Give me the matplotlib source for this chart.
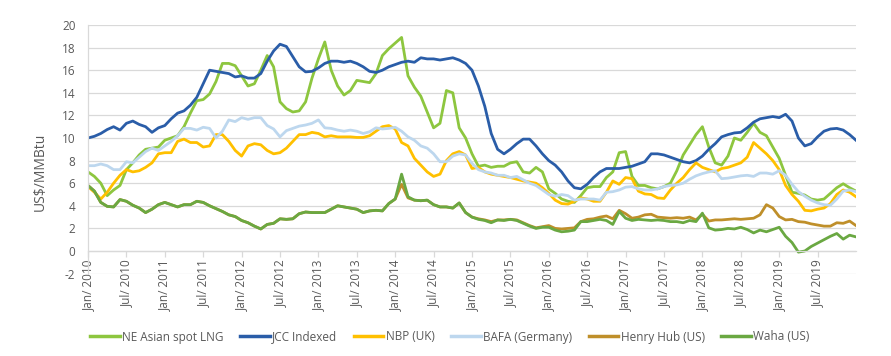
import matplotlib
matplotlib.use("Agg")
import matplotlib.pyplot as plt

plt.rcParams['font.family'] = ['Open Sans', 'DejaVu Sans']
plt.rcParams['axes.unicode_minus'] = False

months = list(range(121))

tick_positions = list(range(0, 120, 6))
tick_labels = ['Jan/ 2010', 'Jul/ 2010', 'Jan/ 2011', 'Jul/ 2011', 'Jan/ 2012', 'Jul/ 2012',
               'Jan/ 2013', 'Jul/ 2013', 'Jan/ 2014', 'Jul/ 2014', 'Jan/ 2015', 'Jul/ 2015',
               'Jan/ 2016', 'Jul/ 2016', 'Jan/ 2017', 'Jul/ 2017', 'Jan/ 2018', 'Jul/ 2018',
               'Jan/ 2019', 'Jul/ 2019']

ne_asian_lng = [7.0, 6.6, 6.0, 4.9, 5.4, 5.8, 7.2, 7.8, 8.5, 9.0, 9.1, 9.2,
                9.8, 10.0, 10.2, 11.0, 12.2, 13.3, 13.4, 13.9, 15.0, 16.6, 16.6, 16.4,
                15.5, 14.6, 14.8, 16.0, 17.3, 16.3, 13.2, 12.6, 12.3, 12.4, 13.2, 15.3,
                17.0, 18.5, 16.0, 14.6, 13.8, 14.2, 15.1, 15.0, 14.9, 15.7, 17.3, 17.9,
                18.4, 18.9, 15.5, 14.5, 13.7, 12.3, 10.9, 11.3, 14.2, 14.0, 10.9, 10.0,
                8.6, 7.5, 7.6, 7.4, 7.5, 7.5, 7.8, 7.9, 7.0, 6.9, 7.4, 7.0,
                5.5, 5.1, 4.6, 4.4, 4.3, 4.9, 5.6, 5.7, 5.7, 6.5, 7.0, 8.7,
                8.8, 6.6, 5.8, 5.8, 5.6, 5.5, 5.7, 6.0, 7.1, 8.5, 9.4, 10.3,
                11.0, 9.2, 7.8, 7.6, 8.4, 10.0, 9.8, 10.5, 11.3, 10.5, 10.2, 9.2,
                8.2, 6.7, 5.2, 5.1, 4.95, 4.6, 4.5, 4.6, 5.1, 5.6, 5.95, 5.6, 5.3]

jcc_indexed = [10.0, 10.15, 10.4, 10.75, 11.0, 10.7, 11.3, 11.5, 11.2, 11.0, 10.5, 10.9,
               11.1, 11.7, 12.2, 12.4, 12.9, 13.6, 14.8, 16.0, 15.9, 15.8, 15.7, 15.4,
               15.5, 15.3, 15.3, 15.7, 16.8, 17.7, 18.3, 18.1, 17.2, 16.3, 15.85, 15.9,
               16.2, 16.6, 16.8, 16.8, 16.7, 16.8, 16.6, 16.3, 15.9, 15.8, 16.0, 16.3,
               16.5, 16.7, 16.8, 16.7, 17.1, 17.0, 17.0, 16.9, 17.0, 17.1, 16.9, 16.6,
               16.0, 14.6, 12.8, 10.4, 9.0, 8.6, 9.0, 9.5, 9.9, 9.9, 9.3, 8.6,
               8.0, 7.6, 7.0, 6.2, 5.6, 5.5, 5.9, 6.5, 7.0, 7.3, 7.3, 7.3,
               7.4, 7.5, 7.7, 7.9, 8.6, 8.6, 8.5, 8.3, 8.1, 7.9, 7.8, 8.0,
               8.4, 9.0, 9.5, 10.1, 10.3, 10.45, 10.5, 10.9, 11.4, 11.7, 11.8, 11.9,
               11.8, 12.1, 11.5, 10.0, 9.3, 9.5, 10.1, 10.6, 10.8, 10.85, 10.7, 10.3, 9.8]

nbp_uk = [5.7, 5.2, 4.6, 5.2, 6.0, 6.7, 7.2, 7.0, 7.1, 7.4, 7.8, 8.6,
          8.7, 8.7, 9.7, 9.9, 9.6, 9.6, 9.2, 9.3, 10.3, 10.3, 9.7, 8.9,
          8.4, 9.3, 9.5, 9.4, 8.9, 8.6, 8.7, 9.1, 9.7, 10.3, 10.3, 10.5,
          10.4, 10.1, 10.2, 10.1, 10.1, 10.1, 10.05, 10.05, 10.2, 10.6, 11.0, 11.1,
          10.8, 9.6, 9.3, 8.2, 7.6, 7.0, 6.6, 6.8, 8.0, 8.6, 8.8, 8.5,
          7.3, 7.4, 7.0, 6.8, 6.7, 6.6, 6.5, 6.35, 6.2, 6.1, 6.0, 5.6,
          5.1, 4.5, 4.2, 4.15, 4.4, 4.7, 4.6, 4.4, 4.4, 5.2, 6.2, 5.9,
          6.5, 6.4, 5.3, 5.05, 5.0, 4.7, 4.65, 5.4, 6.0, 6.5, 7.2, 7.8,
          7.4, 7.2, 7.0, 7.3, 7.4, 7.6, 7.8, 8.3, 9.6, 9.1, 8.6, 8.0,
          7.2, 5.8, 5.0, 4.4, 3.6, 3.55, 3.7, 3.8, 4.2, 5.0, 5.4, 5.2, 4.8]

bafa_germany = [7.55, 7.55, 7.7, 7.55, 7.2, 7.2, 7.9, 7.8, 8.3, 8.8, 9.1, 8.9,
                9.3, 9.7, 10.2, 10.85, 10.85, 10.7, 10.95, 10.85, 10.0, 10.6, 11.6, 11.45,
                11.8, 11.65, 11.8, 11.8, 11.1, 10.8, 10.1, 10.65, 10.85, 11.05, 11.15, 11.3,
                11.6, 10.9, 10.85, 10.7, 10.6, 10.7, 10.6, 10.4, 10.55, 10.9, 10.8, 10.85,
                10.95, 10.6, 10.1, 9.8, 9.3, 9.1, 8.6, 7.9, 7.9, 8.4, 8.6, 8.5,
                7.75, 7.2, 7.0, 6.9, 6.7, 6.7, 6.5, 6.6, 6.3, 6.0, 5.8, 5.4,
                5.0, 4.85, 5.0, 4.9, 4.5, 4.6, 4.6, 4.6, 4.5, 5.2, 5.25, 5.4,
                5.65, 5.7, 5.5, 5.4, 5.4, 5.5, 5.7, 5.8, 5.85, 6.0, 6.35, 6.65,
                6.85, 7.0, 7.1, 6.4, 6.45, 6.55, 6.65, 6.7, 6.6, 6.9, 6.9, 6.8,
                7.1, 6.7, 5.9, 5.25, 4.85, 4.5, 4.25, 4.1, 4.05, 4.6, 5.3, 5.4, 5.25]

henry_hub = [5.8, 5.3, 4.3, 3.95, 3.9, 4.55, 4.4, 4.05, 3.8, 3.4, 3.7, 4.1,
             4.3, 4.1, 3.9, 4.1, 4.1, 4.4, 4.3, 4.0, 3.75, 3.5, 3.2, 3.05,
             2.7, 2.5, 2.2, 1.95, 2.35, 2.45, 2.85, 2.8, 2.85, 3.3, 3.45, 3.4,
             3.4, 3.4, 3.7, 4.0, 3.9, 3.8, 3.7, 3.4, 3.55, 3.6, 3.55, 4.2,
             4.6, 5.9, 4.7, 4.5, 4.45, 4.5, 4.1, 3.9, 3.9, 3.8, 4.25, 3.4,
             3.0, 2.85, 2.75, 2.6, 2.75, 2.75, 2.8, 2.75, 2.5, 2.25, 2.05, 2.15,
             2.25, 2.0, 1.95, 2.0, 2.05, 2.6, 2.8, 2.85, 3.0, 3.1, 2.85, 3.6,
             3.3, 2.9, 3.0, 3.2, 3.25, 3.0, 2.95, 2.9, 2.95, 2.9, 3.0, 2.75,
             3.25, 2.65, 2.75, 2.75, 2.8, 2.85, 2.8, 2.85, 2.9, 3.2, 4.1, 3.8,
             3.05, 2.75, 2.8, 2.6, 2.55, 2.4, 2.3, 2.2, 2.2, 2.5, 2.45, 2.65, 2.25]

waha = [5.8, 5.3, 4.3, 3.95, 3.9, 4.55, 4.4, 4.05, 3.8, 3.4, 3.7, 4.1,
        4.3, 4.1, 3.9, 4.1, 4.1, 4.4, 4.3, 4.0, 3.75, 3.5, 3.2, 3.05,
        2.7, 2.5, 2.2, 1.95, 2.35, 2.45, 2.85, 2.8, 2.85, 3.3, 3.45, 3.4,
        3.4, 3.4, 3.7, 4.0, 3.9, 3.8, 3.7, 3.4, 3.55, 3.6, 3.55, 4.2,
        4.6, 6.8, 4.8, 4.5, 4.45, 4.5, 4.1, 3.9, 3.9, 3.8, 4.25, 3.4,
        3.0, 2.8, 2.7, 2.5, 2.75, 2.7, 2.8, 2.7, 2.45, 2.2, 2.0, 2.1,
        2.1, 1.85, 1.7, 1.75, 1.85, 2.6, 2.6, 2.7, 2.8, 2.7, 2.35, 3.5,
        2.9, 2.7, 2.8, 2.75, 2.7, 2.75, 2.7, 2.6, 2.6, 2.5, 2.7, 2.6,
        3.35, 2.05, 1.85, 1.9, 2.0, 1.95, 2.1, 1.9, 1.6, 1.85, 1.7, 1.9,
        2.1, 1.3, 0.75, -0.1, 0.0, 0.4, 0.7, 1.0, 1.3, 1.55, 1.05, 1.4, 1.25]

series_names = ['NE Asian spot LNG', 'JCC Indexed', 'NBP (UK)', 'BAFA (Germany)',
                'Henry Hub (US)', 'Waha (US)']
series_values = [ne_asian_lng, jcc_indexed, nbp_uk, bafa_germany, henry_hub, waha]
series_colors = ['#8DC63F', '#2A5DA8', '#FFC000', '#BDD7EE', '#BF8F2A', '#6AA842']

text_color = '#595959'
grid_color = '#D9D9D9'

fig = plt.figure(figsize=(8.91, 3.56), dpi=100)
ax = fig.add_axes([88/891, 1 - 273.6/356, (856 - 88)/891, (273.6 - 25)/356])

for name, vals, col in zip(series_names, series_values, series_colors):
    ax.plot(months, vals, color=col, linewidth=2.0, label=name, solid_joinstyle='round')

ax.set_xlim(0, 120)
ax.set_ylim(-2, 20)
ax.set_yticks(range(-2, 21, 2))
ax.yaxis.grid(True, color=grid_color, linewidth=0.9)
ax.set_axisbelow(True)

for s in ['top', 'right']:
    ax.spines[s].set_visible(False)
ax.spines['left'].set_color(grid_color)
ax.spines['left'].set_linewidth(0.9)
ax.spines['bottom'].set_position(('data', 0))
ax.spines['bottom'].set_color(grid_color)
ax.spines['bottom'].set_linewidth(0.9)

ax.set_xticks(tick_positions)
ax.set_xticklabels(tick_labels, rotation=90, ha='center', va='top')
ax.tick_params(axis='x', direction='out', length=4, color=grid_color, width=0.9,
               labelsize=8.5, labelcolor=text_color, pad=2)
ax.tick_params(axis='y', length=0, labelsize=8.5, labelcolor=text_color, pad=9)

fig.text(40/891, 1 - 172/356, 'US$/MMBtu', rotation=90, ha='center', va='center',
         fontsize=10, color=text_color)

leg = fig.legend(loc='center', bbox_to_anchor=(450/891, 1 - 337/356), ncol=6,
                 frameon=False, fontsize=8.5, handlelength=2.5, handletextpad=0.2,
                 columnspacing=1.4, labelcolor=text_color)
for line in leg.get_lines():
    line.set_linewidth(2.5)

fig.savefig('out.png', dpi=100)
